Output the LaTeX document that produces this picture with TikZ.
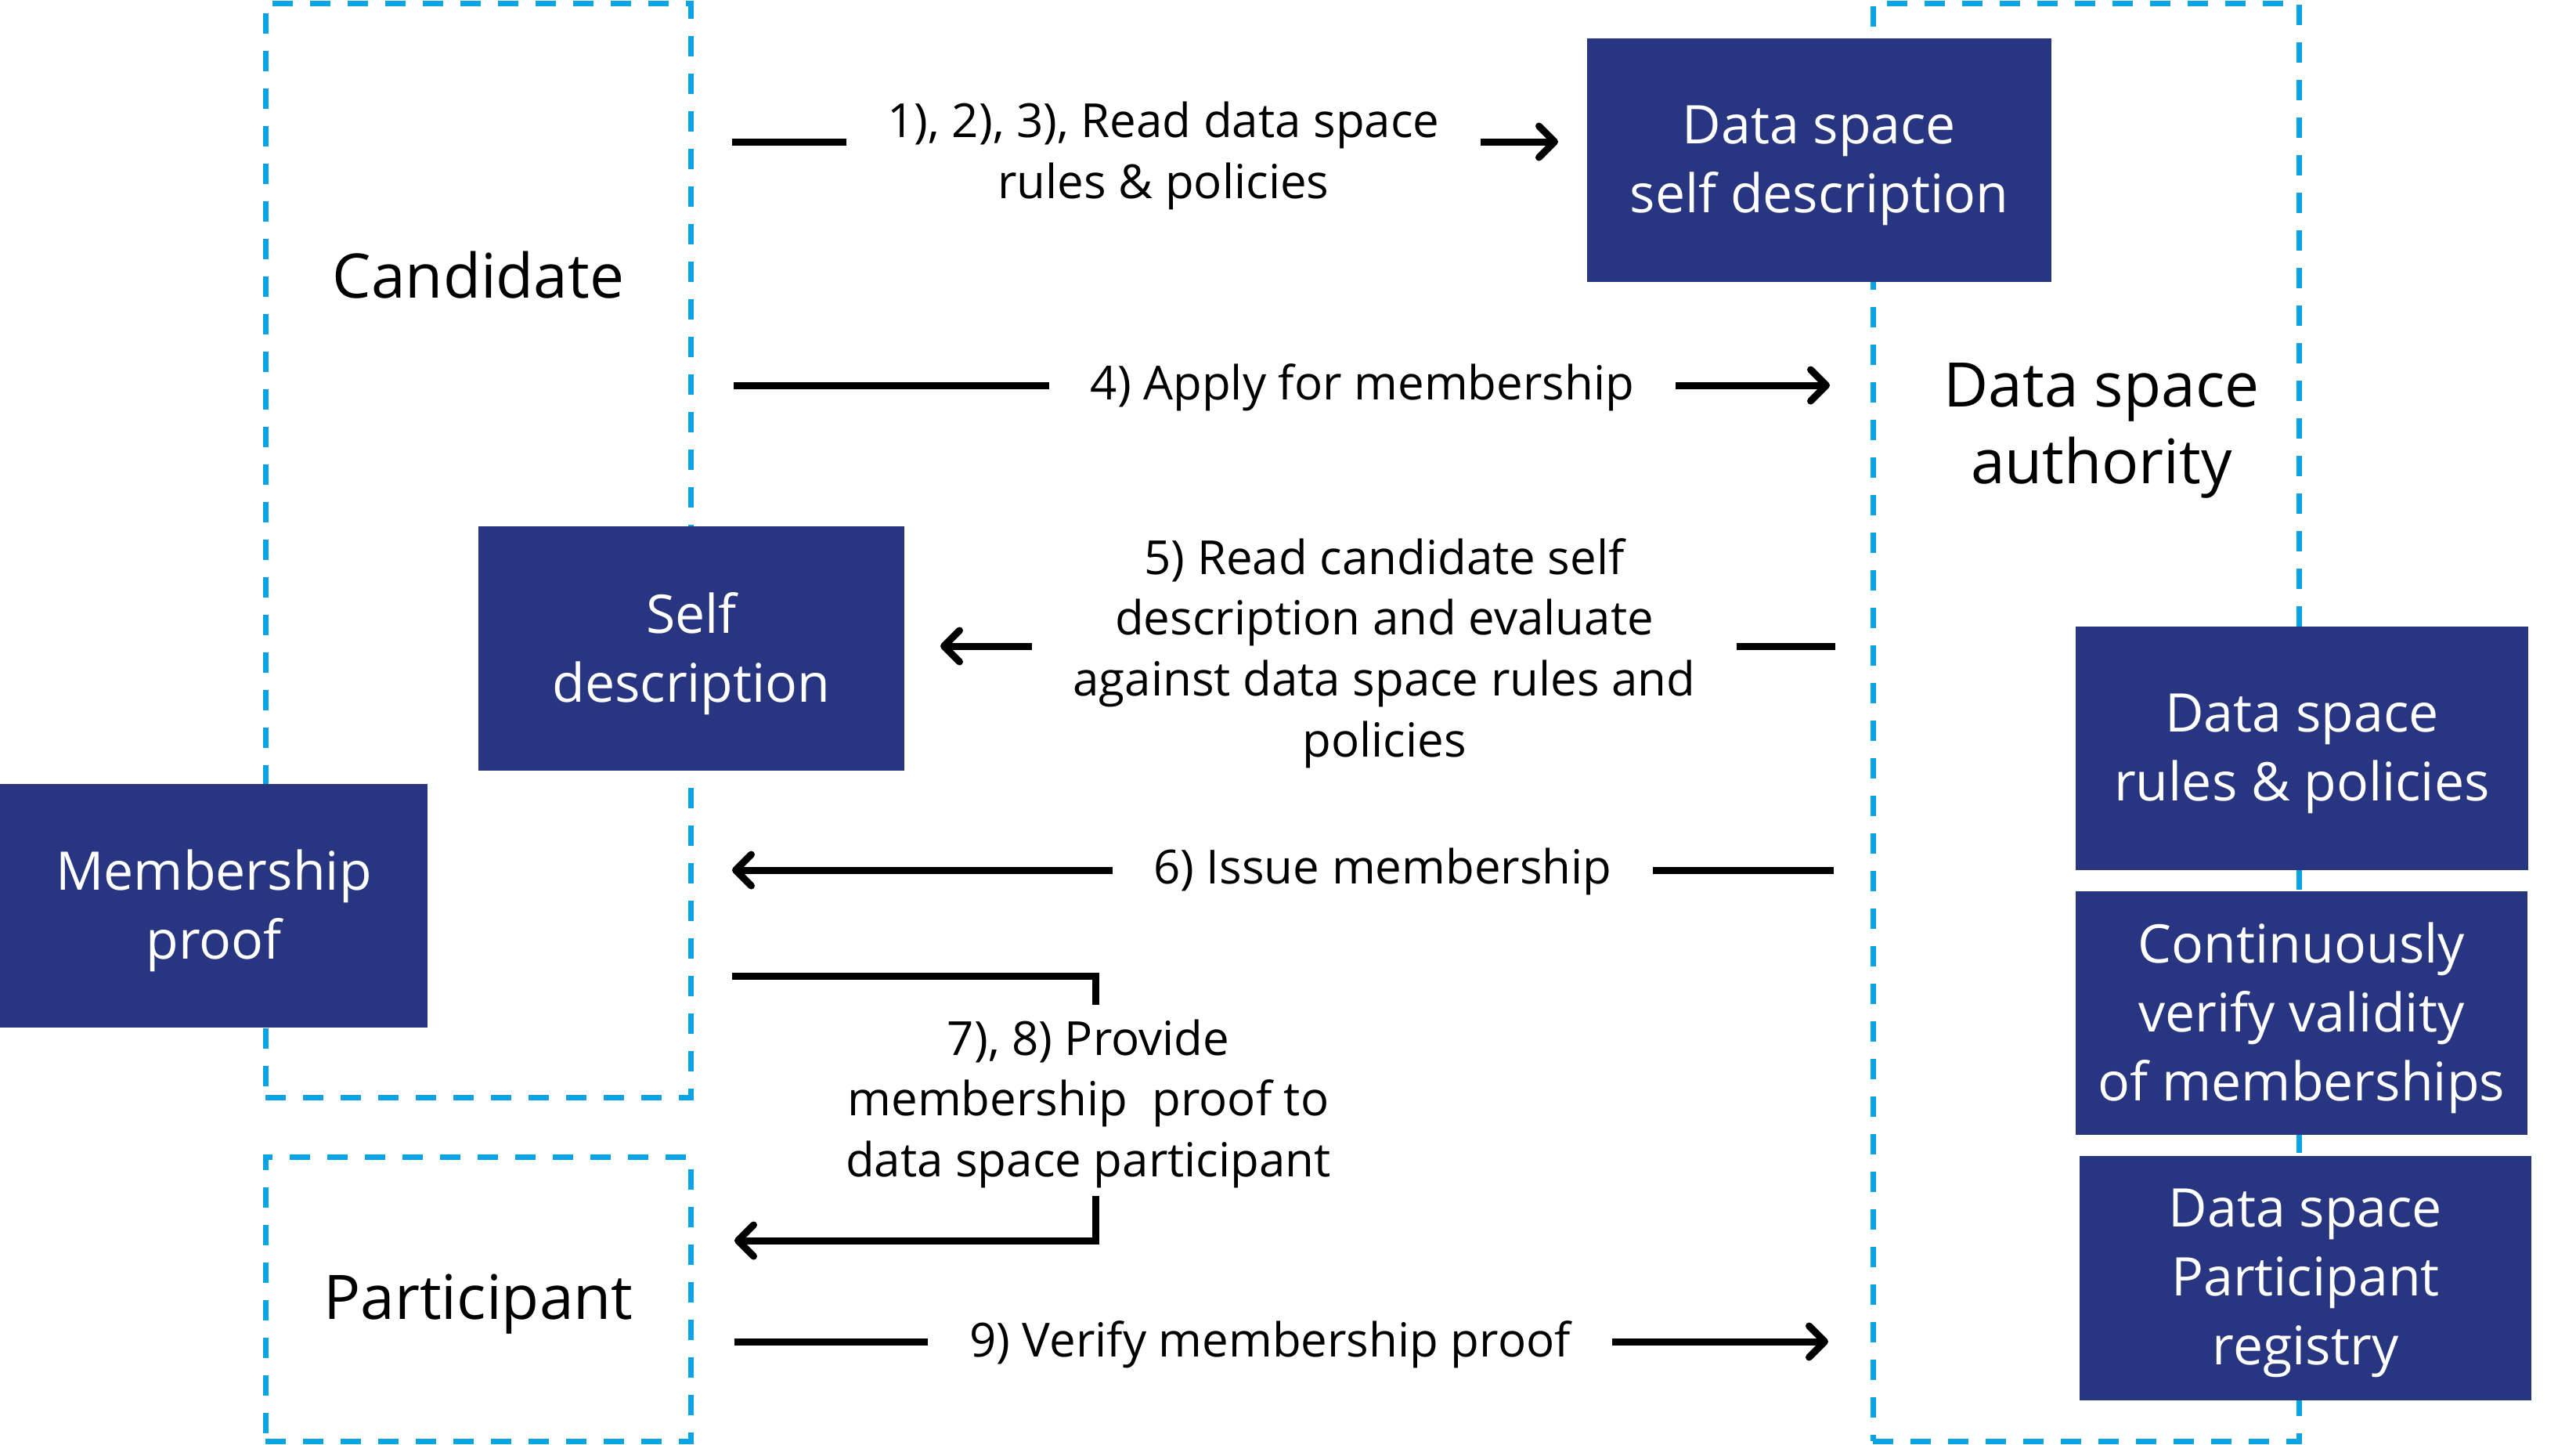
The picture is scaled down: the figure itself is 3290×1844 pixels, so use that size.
\documentclass[tikz,border=0pt]{standalone}
\usepackage{fontspec}
\setmainfont{Open Sans}
\usetikzlibrary{arrows.meta}
\definecolor{dsblue}{RGB}{12,163,228}
\definecolor{dsnavy}{RGB}{40,53,128}

\begin{document}
\begin{tikzpicture}[x=0.25pt,y=0.25pt]
\tikzstyle{every node}+=[inner sep=0pt]
\tikzstyle{dash box}=[draw=dsblue, line width=1.75pt, dash pattern=on 6.5pt off 5.5pt]
\tikzstyle{navy text}=[text=white, align=center, font=\fontsize{17}{22}\selectfont, yshift=-1.6pt]
\tikzstyle{navy box}=[fill=dsnavy]
\tikzstyle{role}=[align=center, font=\fontsize{19.6}{24.5}\selectfont]
\tikzstyle{msg}=[align=center, font=\fontsize{15}{19.4}\selectfont, inner xsep=13pt]
\tikzstyle{wire}=[line width=2.25pt]
\tikzstyle{arr}=[wire, -{Straight Barb[length=5pt,width=10pt,round]}]

\useasboundingbox (0,0) rectangle (3290,-1844);

\node [dash box, minimum width=135.75pt, minimum height=349.25pt] (cand) at (610.5,-702.5) {};
\node [dash box, minimum width=135.75pt, minimum height=90.75pt] (part) at (610.5,-1658.5) {};
\node [dash box, minimum width=136pt, minimum height=459pt] (auth) at (2664,-922) {};

\node [role] (candlbl) at (611,-351) {Candidate};
\node [role] (partlbl) at (611,-1665) {Participant};
\node [role] (authlbl) at (2684,-550) {Data space\\authority};

\node [navy box, minimum width=148.25pt, minimum height=77.75pt,
  label={[navy text]center:Data space\\self description}] (dssd) at (2323.5,-204.5) {};
\node [navy box, minimum width=136pt, minimum height=78pt,
  label={[navy text]center:Self\\description}] (selfd) at (883,-828) {};
\node [navy box, minimum width=136.5pt, minimum height=77.75pt,
  label={[navy text]center:Membership\\proof}] (mproof) at (273,-1156.5) {};
\node [navy box, minimum width=144.5pt, minimum height=77.75pt,
  label={[navy text]center:Data space\\rules \& policies}] (rules) at (2940,-955.5) {};
\node [navy box, minimum width=144.25pt, minimum height=77.75pt,
  label={[navy text]center:Continuously\\verify validity\\of memberships}] (verify) at (2939.5,-1293.5) {};
\node [navy box, minimum width=144.25pt, minimum height=78pt,
  label={[navy text]center:Data space\\Participant\\registry}] (registry) at (2944.5,-1632) {};

\coordinate (s1) at (935,-181);
\coordinate (e1) at (1990,-181);
\node [msg] (t1) at (1486,-199) {1), 2), 3), Read data space\\rules \& policies};
\draw [wire] (s1) -- (s1 -| t1.west);
\draw [arr] (s1 -| t1.east) -- (e1);

\coordinate (s4) at (937,-492);
\coordinate (e4) at (2337,-492);
\node [msg] (t4) at (1740,-495) {4) Apply for membership};
\draw [wire] (s4) -- (s4 -| t4.west);
\draw [arr] (s4 -| t4.east) -- (e4);

\coordinate (s5) at (2344,-825);
\coordinate (e5) at (1201,-825);
\node [msg] (t5) at (1768,-834) {5) Read candidate self\\description and evaluate\\against data space rules and\\policies};
\draw [wire] (s5) -- (s5 -| t5.east);
\draw [arr] (s5 -| t5.west) -- (e5);

\coordinate (s6) at (2342,-1111);
\coordinate (e6) at (935,-1111);
\node [msg] (t6) at (1766,-1113) {6) Issue membership};
\draw [wire] (s6) -- (s6 -| t6.east);
\draw [arr] (s6 -| t6.west) -- (e6);

\coordinate (s7) at (935,-1246);
\coordinate (k7) at (1399,-1246);
\coordinate (k7b) at (1399,-1283);
\node [msg] (t7) at (1390,-1409) {7), 8) Provide\\membership\ \ proof to\\data space participant};
\coordinate (k8) at (1399,-1527);
\coordinate (k8b) at (1399,-1584);
\coordinate (e8) at (938,-1584);
\draw [wire] (s7) -- (k7) -- (k7b);
\draw [arr] (k8) -- (k8b) -- (e8);

\coordinate (s9) at (938,-1713);
\coordinate (e9) at (2335,-1713);
\node [msg] (t9) at (1622,-1717) {9) Verify membership proof};
\draw [wire] (s9) -- (s9 -| t9.west);
\draw [arr] (s9 -| t9.east) -- (e9);
\end{tikzpicture}
\end{document}
